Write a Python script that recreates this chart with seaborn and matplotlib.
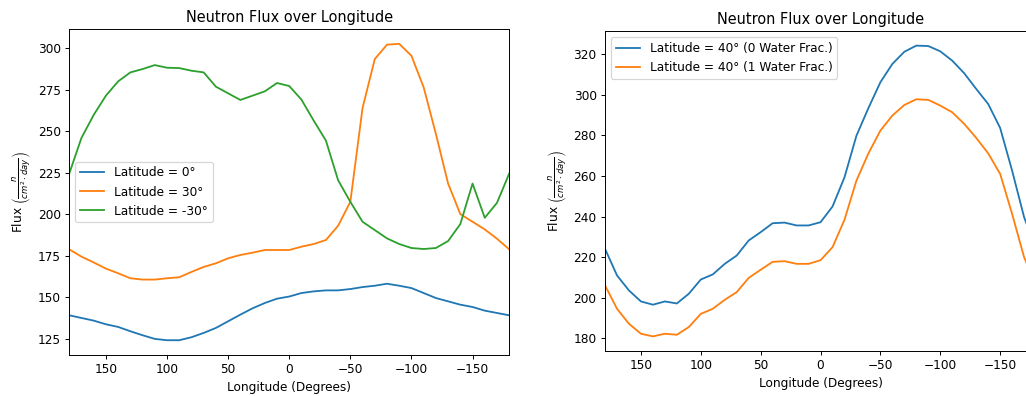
import seaborn as sns
import matplotlib.pyplot as plt
import pandas as pd
import numpy as np

# longitudes, 180 -> -180 every 10 degrees
longitude = [180, 170, 160, 150, 140, 130, 120, 110, 100, 90, 80, 70, 60, 50, 40, 30, 20, 10, 0,
             -10, -20, -30, -40, -50, -60, -70, -80, -90, -100, -110, -120, -130, -140, -150,
             -160, -170, -180]

# left panel
flux_lat_0 = [139.2, 137.6, 136.0, 133.8, 132.2, 129.6, 127.2, 125.0, 124.2, 124.2, 126.0, 128.6,
              131.6, 135.6, 139.6, 143.4, 146.6, 149.2, 150.5,
              152.6, 153.6, 154.2, 154.2, 155.0, 156.2, 157.0, 158.2, 157.0, 155.6, 152.6, 149.6,
              147.6, 145.6, 144.2, 142.0, 140.6, 139.2]
flux_lat_30 = [178.9, 174.5, 171.0, 167.3, 164.5, 161.5, 160.7, 160.7, 161.5, 162.1, 165.3, 168.3,
               170.5, 173.5, 175.5, 176.9, 178.5, 178.5, 178.5,
               180.5, 182.1, 184.5, 193.1, 207.5, 264.0, 293.4, 302.1, 302.6, 295.4, 276.4, 248.4,
               218.5, 200.1, 195.5, 190.9, 185.3, 178.9]
flux_lat_m30 = [224.5, 246.0, 259.8, 271.4, 280.0, 285.4, 287.4, 289.8, 288.2, 288.0, 286.4, 285.4,
                276.8, 272.8, 268.8, 271.4, 274.0, 279.0, 277.2,
                269.0, 256.4, 244.4, 220.5, 207.5, 195.5, 190.5, 185.5, 182.1, 179.7, 179.1, 179.7,
                183.9, 194.1, 218.5, 197.9, 206.9, 224.5]

# right panel
flux_40_dry = [224.1, 211.0, 203.6, 198.2, 196.6, 198.2, 197.2, 202.0, 209.0, 211.5, 216.7, 220.8,
               228.2, 232.3, 236.7, 237.0, 235.6, 235.6, 237.2,
               244.9, 259.3, 279.8, 293.4, 306.1, 315.1, 321.1, 324.1, 323.9, 321.3, 316.7, 310.5,
               302.8, 295.4, 283.6, 262.6, 239.7, 224.1]
flux_40_wet = [206.1, 194.6, 187.2, 182.3, 181.0, 182.3, 181.8, 185.6, 192.1, 194.6, 199.0, 202.8,
               209.8, 213.8, 217.7, 218.0, 216.7, 216.7, 218.5,
               224.9, 238.4, 257.7, 271.1, 282.3, 289.7, 294.9, 297.7, 297.4, 294.6, 291.3, 285.6,
               278.7, 271.1, 261.0, 241.3, 220.0, 206.1]

left_labels = ['Latitude = 0°', 'Latitude = 30°', 'Latitude = -30°']
right_labels = ['Latitude = 40° (0 Water Frac.)', 'Latitude = 40° (1 Water Frac.)']

x_ticks = [150, 100, 50, 0, -50, -100, -150]
left_yticks = [125, 150, 175, 200, 225, 250, 275, 300]
right_yticks = [180, 200, 220, 240, 260, 280, 300, 320]

colors = sns.color_palette('tab10')
ylabel = r'Flux $\left(\frac{n}{cm^2 \cdot day}\right)$'


def draw_panel(ax, series, labels, yticks, legend_loc):
    for i, (vals, lab) in enumerate(zip(series, labels)):
        df = pd.DataFrame({'Longitude': longitude, 'Flux': vals})
        sns.lineplot(data=df, x='Longitude', y='Flux', color=colors[i], label=lab,
                     linewidth=1.5, ax=ax, sort=False)
    ax.set_xlim(180, -180)
    ax.set_xticks(x_ticks)
    ax.set_yticks(yticks)
    ax.set_title('Neutron Flux over Longitude')
    ax.set_xlabel('Longitude (Degrees)')
    ax.set_ylabel(ylabel)
    ax.legend(loc=legend_loc)


DPI = 87
fig = plt.figure(figsize=(1026 / DPI, 396 / DPI), dpi=DPI)
ax1 = fig.add_axes([0.0675, 0.1035, 0.4288, 0.8232])
ax2 = fig.add_axes([0.5897, 0.1136, 0.4201, 0.8081])

draw_panel(ax1, [flux_lat_0, flux_lat_30, flux_lat_m30], left_labels, left_yticks, 'center left')
draw_panel(ax2, [flux_40_dry, flux_40_wet], right_labels, right_yticks, 'upper left')

ax1.set_ylim(115.3, 311.5)
ax2.set_ylim(173.8, 331.3)

fig.savefig('out.png', dpi=DPI)
